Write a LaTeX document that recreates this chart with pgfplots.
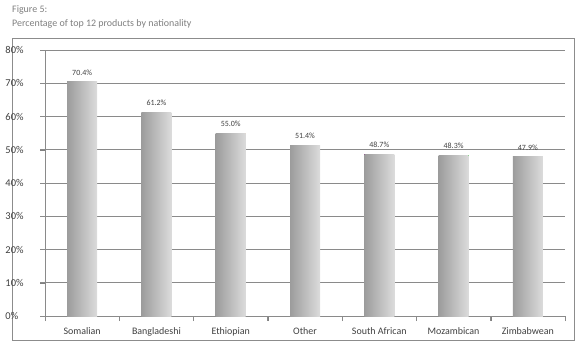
\documentclass[border=0pt]{standalone}
\usepackage{fontspec}
\setmainfont{Carlito}
\usepackage{pgfplots}
\pgfplotsset{compat=1.18}
\definecolor{framegray}{HTML}{8C8C8C}
\definecolor{gridgray}{HTML}{8A8A8A}
\definecolor{titlegray}{HTML}{7F7F7F}
\definecolor{txtgray}{HTML}{404040}
\definecolor{barleft}{HTML}{9C9C9C}
\definecolor{barright}{HTML}{DCDCDC}
\begin{document}
\begin{tikzpicture}[x=1bp,y=1bp]
\useasboundingbox (0,0) rectangle (580,352);
\draw[framegray, line width=0.9bp] (12,12) rectangle (574,314);
\node[anchor=base west, inner sep=0, text=titlegray, font=\fontsize{10}{12}\selectfont] at (12,340) {Figure 5:};
\node[anchor=base west, inner sep=0, text=titlegray, font=\fontsize{10}{12}\selectfont] at (12,326) {Percentage of top 12 products by nationality};
\begin{axis}[
  at={(45bp,36bp)}, anchor=south west,
  scale only axis, width=520bp, height=266bp,
  xmin=-0.5, xmax=6.5, ymin=0, ymax=80,
  axis lines*=left,
  axis line style={gridgray, line width=0.8bp},
  ymajorgrids, grid style={gridgray, line width=0.8bp},
  ytick={0,10,...,80},
  yticklabel={\pgfmathprintnumber{\tick}\%},
  yticklabel style={text width=30bp, align=left, anchor=east, xshift=-1bp, font=\fontsize{10.5}{12}\selectfont},
  xtick={-0.5,0.5,...,6.5},
  xticklabels={Somalian,Bangladeshi,Ethiopian,Other,South African,Mozambican,Zimbabwean,{}},
  xticklabel style={anchor=north, xshift=37.14bp, yshift=-3bp, font=\fontsize{10}{12}\selectfont},
  tick align=outside,
  major tick length=5bp,
  ticklabel style={text=txtgray},
  /pgf/number format/assume math mode=true,
  ybar, bar width=30bp, bar shift=0pt,
  every axis plot/.append style={draw=none, left color=barleft, right color=barright, bar shift=0pt},
  nodes near coords={\pgfmathprintnumber[fixed,precision=1,fixed zerofill]{\pgfplotspointmeta}\%},
  nodes near coords style={text=txtgray, font=\fontsize{8}{9}\selectfont, anchor=south, yshift=3bp},
  clip=false,
]
\addplot coordinates {(0,70.4)};
\addplot coordinates {(1,61.2)};
\addplot coordinates {(2,55.0)};
\addplot coordinates {(3,51.4)};
\addplot coordinates {(4,48.7)};
\addplot coordinates {(5,48.3)};
\addplot coordinates {(6,47.9)};
\pgfplotsinvokeforeach{-0.5,0.5,1.5,2.5,3.5,4.5,5.5,6.5}{
  \draw[gridgray, line width=0.8bp] (axis cs:#1,0) -- ++(0bp,-5bp);
}
\pgfplotsinvokeforeach{0,10,20,30,40,50,60,70,80}{
  \draw[gridgray, line width=0.8bp] (axis cs:-0.5,#1) -- ++(-5bp,0bp);
}
\end{axis}
\end{tikzpicture}
\end{document}
